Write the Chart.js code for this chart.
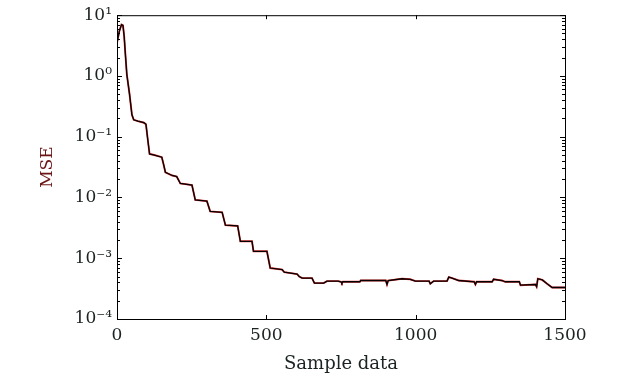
<!DOCTYPE html>
<html>
<head>
<meta charset="utf-8">
<script src="https://cdn.jsdelivr.net/npm/chart.js@4.4.1/dist/chart.umd.min.js"></script>
<style>
  html, body { margin: 0; padding: 0; background: #fff; }
  #wrap { width: 630px; height: 378px; }
</style>
</head>
<body>
<div id="wrap"><canvas id="mse-chart"></canvas></div>
<script>
// sample index where each point of the curve sits
const samples = [0, 8, 15, 20, 24, 28, 33, 42, 50, 56, 70, 90, 97, 103, 109, 125, 150, 156, 162, 185, 200, 212, 251, 262, 301, 312, 352, 363, 404, 413, 452, 457, 502, 513, 553, 560, 603, 610, 620, 653, 661, 692, 703, 740, 750, 753, 756, 765, 813, 816, 900, 904, 908, 954, 982, 999, 1045, 1049, 1060, 1105, 1111, 1122, 1144, 1196, 1200, 1204, 1256, 1261, 1289, 1300, 1347, 1351, 1401, 1405, 1409, 1424, 1440, 1457, 1500];
// MSE
const mse = [3.5, 5.5, 7.0, 6.8, 4.5, 2.3, 1.05, 0.5, 0.23, 0.19, 0.18, 0.17, 0.16, 0.09, 0.052, 0.05, 0.046, 0.035, 0.026, 0.023, 0.022, 0.017, 0.016, 0.0091, 0.0087, 0.0059, 0.0057, 0.0035, 0.0034, 0.0019, 0.0019, 0.0013, 0.0013, 0.00069, 0.00065, 0.00059, 0.00055, 0.0005, 0.00047, 0.00047, 0.00039, 0.00039, 0.00042, 0.00042, 0.00041, 0.00039, 0.00041, 0.00041, 0.00041, 0.00043, 0.00043, 0.00037, 0.00043, 0.00046, 0.00045, 0.00042, 0.00042, 0.00038, 0.00042, 0.00042, 0.00049, 0.00047, 0.00043, 0.00041, 0.00037, 0.00041, 0.00041, 0.00045, 0.00043, 0.00041, 0.00041, 0.00036, 0.00037, 0.00034, 0.00046, 0.00044, 0.00038, 0.00033, 0.00033];

const yTicks = [1e-4, 1e-3, 1e-2, 1e-1, 1e0, 1e1];
const yTickLabels = ["10\u207B\u2074", "10\u207B\u00B3", "10\u207B\u00B2", "10\u207B\u00B9", "10\u2070", "10\u00B9"];
const xTicks = [0, 500, 1000, 1500];
const xTickLabels = ["0", "500", "1000", "1500"];

const points = samples.map((s, i) => ({ x: s, y: mse[i] }));
const textColor = "#1b2222";

// frame + inward ticks like the matlab figure
const frameTicks = {
  id: "frameTicks",
  afterDatasetsDraw(chart) {
    const ctx = chart.ctx;
    const a = chart.chartArea;
    const xs = chart.scales.x;
    const ys = chart.scales.y;
    ctx.save();
    ctx.strokeStyle = "#000";
    ctx.lineWidth = 1;
    ctx.strokeRect(a.left + 0.5, a.top + 0.5, a.right - a.left, a.bottom - a.top);
    ctx.beginPath();
    xTicks.forEach(v => {
      const px = Math.round(xs.getPixelForValue(v)) + 0.5;
      ctx.moveTo(px, a.bottom); ctx.lineTo(px, a.bottom - 4);
      ctx.moveTo(px, a.top); ctx.lineTo(px, a.top + 4);
    });
    for (let e = -4; e <= 0; e++) {
      for (let m = 1; m <= 10; m++) {
        const v = m * Math.pow(10, e);
        const py = Math.round(ys.getPixelForValue(v)) + 0.5;
        const len = (m === 1 || m === 10) ? 5 : 3;
        ctx.moveTo(a.left, py); ctx.lineTo(a.left + len, py);
        ctx.moveTo(a.right, py); ctx.lineTo(a.right - len, py);
      }
    }
    ctx.stroke();
    ctx.restore();
  }
};

const config = {
  type: "line",
  data: {
    datasets: [
      {
        label: "estimate",
        data: points,
        borderColor: "#000",
        borderWidth: 1.3,
        pointRadius: 0,
        tension: 0,
      },
      {
        label: "reference",
        data: points,
        borderColor: "#e03030",
        borderWidth: 1.9,
        pointRadius: 0,
        tension: 0,
      },
    ],
  },
  options: {
    responsive: true,
    maintainAspectRatio: false,
    animation: false,
    layout: { padding: { left: 0, right: 65, top: 11, bottom: 0 } },
    plugins: { legend: { display: false }, tooltip: { enabled: false } },
    scales: {
      x: {
        type: "linear",
        min: 0,
        max: 1500,
        afterBuildTicks: (scale) => { scale.ticks = xTicks.map(v => ({ value: v })); },
        afterFit: (scale) => { scale.height = 59; },
        grid: { display: false, drawTicks: false },
        border: { display: false },
        ticks: {
          padding: 6,
          color: textColor,
          font: { family: "DejaVu Serif", size: 17 },
          maxRotation: 0,
          callback: (v) => xTickLabels[xTicks.indexOf(v)] ?? "",
        },
        title: {
          display: true,
          text: "Sample data",
          color: textColor,
          font: { family: "DejaVu Serif", size: 18 },
          padding: { top: 0, bottom: 3 },
        },
      },
      y: {
        type: "logarithmic",
        min: 1e-4,
        max: 10,
        afterBuildTicks: (scale) => { scale.ticks = yTicks.map(v => ({ value: v })); },
        afterFit: (scale) => { scale.width = 117; },
        grid: { display: false, drawTicks: false },
        border: { display: false },
        ticks: {
          padding: 5,
          color: textColor,
          font: { family: "DejaVu Serif", size: 17 },
          callback: (v) => {
            const i = yTicks.findIndex(t => Math.abs(Math.log10(t) - Math.log10(v)) < 1e-6);
            return i >= 0 ? yTickLabels[i] : "";
          },
        },
        title: {
          display: true,
          text: "MSE",
          color: "#6a1414",
          font: { family: "DejaVu Serif", size: 17 },
          padding: { top: 37, bottom: 0 },
        },
      },
    },
  },
  plugins: [frameTicks],
};

const mseChart = new Chart(document.getElementById("mse-chart"), config);
</script>
</body>
</html>
